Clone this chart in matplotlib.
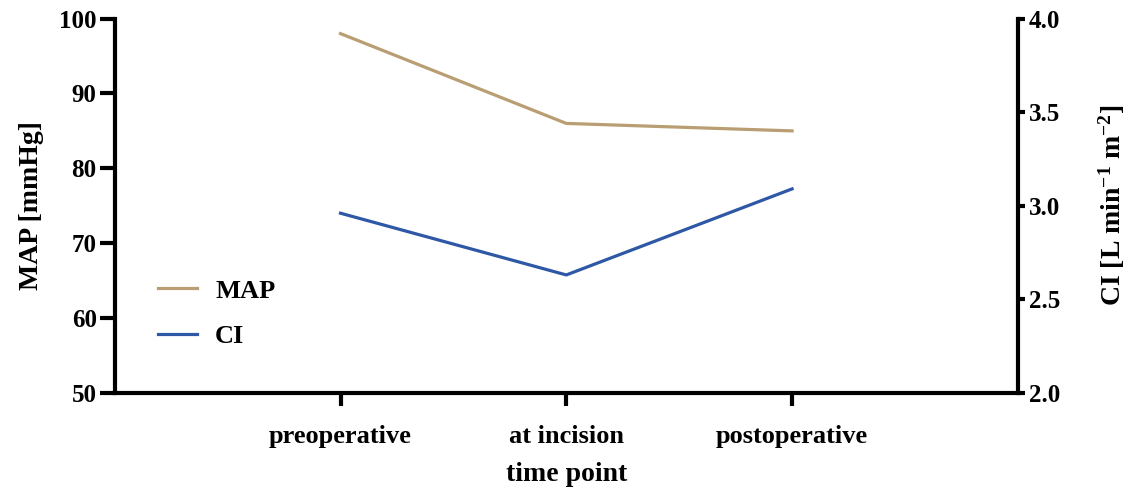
import matplotlib
matplotlib.use("Agg")
import matplotlib.pyplot as plt

# data
time_points = ["preoperative", "at incision", "postoperative"]
map_values = [98, 86, 85]          # mmHg
ci_values = [2.96, 2.63, 3.09]     # L min-1 m-2

map_color = "#B89E72"
ci_color = "#2E58A6"

plt.rcParams["font.family"] = ["Liberation Serif", "DejaVu Serif"]
plt.rcParams["font.weight"] = "bold"
plt.rcParams["mathtext.fontset"] = "custom"
plt.rcParams["mathtext.rm"] = "Liberation Serif:bold"
plt.rcParams["mathtext.default"] = "rm"

fig = plt.figure(figsize=(11.36, 4.91), dpi=100)
ax = fig.add_axes([0.101, 0.2, 0.795, 0.762])
ax2 = ax.twinx()

x = [1, 2, 3]
l1, = ax.plot(x, map_values, color=map_color, lw=2.3, label="MAP")
l2, = ax2.plot(x, ci_values, color=ci_color, lw=2.3, label="CI")

ax.set_xlim(0, 4)
ax.set_ylim(50, 100)
ax2.set_ylim(2.0, 4.0)
ax.set_yticks([50, 60, 70, 80, 90, 100])
ax2.set_yticks([2.0, 2.5, 3.0, 3.5, 4.0])
ax2.set_yticklabels(["2.0", "2.5", "3.0", "3.5", "4.0"])
ax.set_xticks(x)
ax.set_xticklabels(time_points)

for a in (ax, ax2):
    a.spines["top"].set_visible(False)
    for s in ("left", "right", "bottom"):
        a.spines[s].set_linewidth(3)
ax.spines["right"].set_visible(False)
ax2.spines["left"].set_visible(False)
ax2.spines["bottom"].set_visible(False)

ax.tick_params(axis="y", direction="out", length=11, width=3, labelsize=18, pad=2)
ax.tick_params(axis="x", direction="out", length=9, width=3, labelsize=19, pad=14)
ax2.tick_params(axis="y", direction="out", length=5, width=3, labelsize=18, pad=3)

ax.set_xlabel("time point", fontsize=20, fontweight="bold", labelpad=10)
ax.set_ylabel("MAP [mmHg]", fontsize=20, fontweight="bold", labelpad=11)
ax2.set_ylabel("CI [L min$^{-1}$ m$^{-2}$]", fontsize=20, fontweight="bold",
               labelpad=26)

ax.legend(handles=[l1, l2], loc="lower left", bbox_to_anchor=(0.022, 0.055),
          frameon=False, fontsize=19, handlelength=1.45, handletextpad=0.7,
          labelspacing=0.85)

fig.savefig("out.png", dpi=100)
